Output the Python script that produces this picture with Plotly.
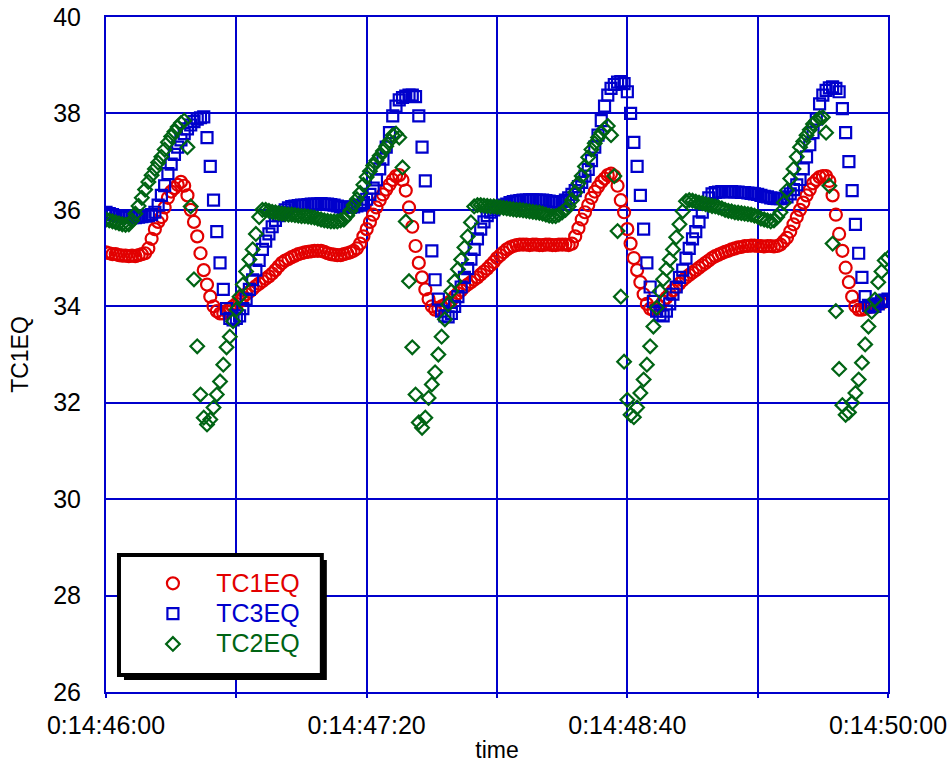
import plotly.graph_objects as go

# time axis: seconds after 0:14:46:00, one sample per second
t_start = 0
t_step = 1
n_samples = 241
time_s = [t_start + i * t_step for i in range(n_samples)]

tick_vals = [0, 40, 80, 120, 160, 200, 240]
tick_text = ["0:14:46:00", "", "0:14:47:20", "", "0:14:48:40", "", "0:14:50:00"]

tc1eq = [
    35.12, 35.10, 35.08, 35.08, 35.06, 35.05, 35.05, 35.04, 35.05, 35.04, 35.06, 35.08, 35.10,
    35.20, 35.40, 35.60, 35.75, 35.85, 36.05, 36.25, 36.38, 36.45, 36.52, 36.58,
    36.50, 36.30, 36.00, 35.75, 35.45, 35.10, 34.75, 34.45, 34.20, 34.00, 33.90, 33.85, 33.85, 33.90, 33.95, 34.00, 34.05,
    34.10, 34.18, 34.25, 34.30, 34.36, 34.42, 34.47, 34.52, 34.57, 34.62, 34.68, 34.75, 34.83, 34.90, 34.95, 34.98, 35.02, 35.05, 35.08, 35.10,
    35.12, 35.13, 35.14, 35.15, 35.15, 35.15, 35.13, 35.10, 35.08, 35.07, 35.06, 35.06, 35.08, 35.10, 35.12,
    35.15, 35.20, 35.30, 35.45, 35.60, 35.75, 35.90, 36.05, 36.20, 36.32, 36.42, 36.52, 36.62, 36.70, 36.72,
    36.62, 36.40, 36.05, 35.65, 35.25, 34.90, 34.60, 34.35, 34.15, 34.00, 33.93, 33.95, 34.00, 34.03, 34.07, 34.12,
    34.20, 34.27, 34.33, 34.40, 34.45, 34.50, 34.55, 34.60, 34.66, 34.72, 34.78, 34.85, 34.92, 35.00, 35.06, 35.12, 35.18, 35.22, 35.25, 35.27, 35.28,
    35.28, 35.28, 35.27, 35.28, 35.28, 35.27, 35.27, 35.28, 35.28, 35.27, 35.27, 35.28, 35.28, 35.28, 35.27, 35.30,
    35.45, 35.62, 35.80, 35.95, 36.10, 36.25, 36.38, 36.48, 36.58, 36.65, 36.72, 36.75, 36.70,
    36.50, 36.20, 35.95, 35.60, 35.30, 35.00, 34.75, 34.50, 34.25, 34.05, 33.95, 33.92, 33.95, 34.00,
    34.10, 34.18, 34.26, 34.33, 34.40, 34.47, 34.54, 34.60, 34.65, 34.70, 34.75, 34.80, 34.85, 34.90, 34.95, 35.00, 35.04, 35.07, 35.10, 35.13, 35.15, 35.18, 35.20, 35.22, 35.23, 35.25, 35.25, 35.26,
    35.26, 35.25, 35.25, 35.24, 35.25, 35.25, 35.24, 35.25, 35.28,
    35.35, 35.42, 35.55, 35.70, 35.85, 36.00, 36.15, 36.30, 36.42, 36.55, 36.62, 36.68, 36.70, 36.70,
    36.60, 36.30, 35.90, 35.50, 35.15, 34.80, 34.50, 34.20, 34.00, 33.93, 33.93, 33.95, 33.98, 34.00, 34.02, 34.05, 34.07, 34.10, 34.12,
]

tc3eq = [
    35.95, 35.92, 35.90, 35.88, 35.87, 35.86, 35.85, 35.85, 35.84, 35.84, 35.85, 35.86, 35.87, 35.88,
    35.90, 35.95, 36.10, 36.30, 36.50, 36.75, 36.95, 37.15, 37.30, 37.45, 37.58, 37.68, 37.76, 37.83, 37.88, 37.91, 37.93,
    37.50, 36.90, 36.20, 35.55, 34.90, 34.35, 33.95, 33.75, 33.72, 33.75,
    33.80, 33.95, 34.15, 34.35, 34.55, 34.75, 34.95, 35.18, 35.35, 35.50, 35.65, 35.78, 35.88, 35.95, 36.00, 36.04, 36.07, 36.08, 36.09, 36.10,
    36.10, 36.11, 36.12, 36.12, 36.12, 36.13, 36.12, 36.12, 36.11, 36.10, 36.08, 36.06, 36.05, 36.05, 36.05, 36.06, 36.08,
    36.10, 36.15, 36.22, 36.32, 36.45, 36.62, 36.85, 37.05, 37.30, 37.60, 37.95, 38.15, 38.28, 38.33, 38.36, 38.38, 38.38, 38.35,
    37.95, 37.30, 36.60, 35.85, 35.15, 34.55, 34.15, 33.90, 33.80, 33.78, 33.85,
    34.00, 34.20, 34.40, 34.60, 34.78, 34.98, 35.18, 35.40, 35.60, 35.75, 35.88, 35.95, 36.00, 36.05, 36.08, 36.10,
    36.12, 36.15, 36.17, 36.18, 36.19, 36.20, 36.20, 36.21, 36.21, 36.20, 36.20, 36.20, 36.19, 36.18, 36.17, 36.16, 36.16, 36.17, 36.20,
    36.25, 36.32, 36.40, 36.48, 36.57, 36.70, 36.84, 37.02, 37.30, 37.55, 37.85, 38.15, 38.38, 38.52, 38.60, 38.65, 38.66, 38.62,
    38.45, 38.00, 37.40, 36.90, 36.30, 35.60, 34.90, 34.40, 34.10, 33.90, 33.82, 33.80,
    33.90, 34.05, 34.25, 34.40, 34.60, 34.75, 35.00, 35.20, 35.40, 35.55, 35.75, 35.95, 36.12, 36.25, 36.33, 36.36, 36.37, 36.38, 36.38, 36.38, 36.38, 36.37, 36.37, 36.36, 36.36, 36.35, 36.34, 36.33, 36.32,
    36.30, 36.28, 36.27, 36.25, 36.24, 36.23, 36.23, 36.24, 36.27, 36.33, 36.42, 36.52, 36.63, 36.85, 37.10, 37.35, 37.60, 37.88, 38.20, 38.38, 38.48, 38.53, 38.55, 38.52, 38.45,
    38.10, 37.60, 37.00, 36.40, 35.70, 35.10, 34.60, 34.20, 34.02, 33.98, 34.00, 34.05, 34.10, 34.13, 34.15,
]

tc2eq = [
    35.80, 35.78, 35.76, 35.74, 35.72, 35.70, 35.69, 35.70, 35.78, 35.92, 36.08, 36.25, 36.42, 36.58, 36.72, 36.85, 36.98, 37.10, 37.25, 37.40, 37.52, 37.62, 37.72, 37.80, 37.85,
    37.30, 36.07, 34.56, 33.17, 32.17, 31.69, 31.55, 31.65, 31.90, 32.17, 32.44, 32.79, 33.15, 33.37, 33.69, 33.93,
    34.20, 34.45, 34.72, 34.97, 35.18, 35.50, 35.85, 36.00,
    36.00, 35.98, 35.96, 35.95, 35.93, 35.92, 35.91, 35.90, 35.90, 35.89, 35.88, 35.87, 35.87, 35.86, 35.85, 35.84, 35.82, 35.80, 35.78, 35.77, 35.76, 35.76, 35.76, 35.78,
    35.80, 35.88, 35.98, 36.10, 36.22, 36.35, 36.52, 36.68, 36.80, 36.92, 37.02, 37.12, 37.22, 37.32, 37.43, 37.55, 37.58, 37.50,
    36.88, 35.76, 34.52, 33.15, 32.17, 31.59, 31.48, 31.69, 32.10, 32.38, 32.63, 33.00, 33.37, 33.73, 34.04, 34.31, 34.52, 34.77, 34.97, 35.22, 35.45, 35.74, 36.07,
    36.10, 36.10, 36.09, 36.08, 36.07, 36.07, 36.06, 36.05, 36.04, 36.03, 36.02, 36.01, 36.00, 36.00, 35.99, 35.98, 35.97, 35.96, 35.95, 35.94, 35.92, 35.90, 35.88, 35.87, 35.87, 35.90, 35.95, 36.00, 36.07,
    36.20, 36.36, 36.55, 36.70, 36.90, 37.09, 37.25, 37.38, 37.50, 37.60, 37.68, 37.74, 37.55, 36.70, 35.56, 34.20, 32.85, 32.06, 31.75, 31.70,
    31.90, 32.20, 32.48, 32.79, 33.17, 33.58, 33.97, 34.31, 34.56, 34.77, 34.97, 35.18, 35.43, 35.70, 35.97, 36.18,
    36.20, 36.19, 36.17, 36.15, 36.14, 36.12, 36.10, 36.08, 36.07, 36.05, 36.03, 36.00, 35.98, 35.97, 35.95, 35.94, 35.93, 35.92, 35.91, 35.90, 35.88, 35.86,
    35.82, 35.80, 35.78, 35.76, 35.78, 35.85, 35.95, 36.15, 36.40, 36.65, 36.85, 37.10, 37.30, 37.42, 37.55, 37.66, 37.78, 37.85, 37.90, 37.92,
    37.60, 36.50, 35.30, 33.90, 32.70, 31.95, 31.75, 31.80, 32.00, 32.20, 32.48, 32.83, 33.21, 33.58, 33.89, 34.14, 34.50, 34.72, 34.95, 35.00,
]

RED = "rgb(226,0,0)"
BLUE = "rgb(0,0,204)"
GREEN = "rgb(0,100,20)"
FONT = "Liberation Sans, Arial, sans-serif"
NB = "\u00a0"


def legend_name(text, color):
    return NB * 4 + f"<span style='color:{color};font-size:25px'>{text}</span>"


fig = go.Figure()
fig.add_trace(go.Scatter(
    x=time_s, y=tc1eq, mode="markers", name=legend_name("TC1EQ", RED),
    marker=dict(symbol="circle-open", size=12, color=RED, line=dict(width=2.2, color=RED)),
))
fig.add_trace(go.Scatter(
    x=time_s, y=tc3eq, mode="markers", name=legend_name("TC3EQ", BLUE),
    marker=dict(symbol="square-open", size=11, color=BLUE, line=dict(width=2.2, color=BLUE)),
))
fig.add_trace(go.Scatter(
    x=time_s, y=tc2eq, mode="markers", name=legend_name("TC2EQ", GREEN),
    marker=dict(symbol="diamond-open", size=10.5, color=GREEN, line=dict(width=2.2, color=GREEN)),
))

# legend frame with drop shadow
lx0, lx1, ly0, ly1 = 0.0166, 0.276, 0.0252, 0.203
dx, dy = 0.0064, 0.0074
fig.add_shape(type="rect", xref="paper", yref="paper",
              x0=lx0 + dx, x1=lx1 + dx, y0=ly0 - dy, y1=ly1 - dy,
              fillcolor="black", line=dict(color="black", width=0), layer="above")
fig.add_shape(type="rect", xref="paper", yref="paper",
              x0=lx0, x1=lx1, y0=ly0, y1=ly1,
              fillcolor="white", line=dict(color="black", width=4), layer="above")

fig.update_layout(
    width=951, height=769,
    margin=dict(l=106, r=63, t=17, b=77, autoexpand=False),
    paper_bgcolor="white", plot_bgcolor="white",
    font=dict(family=FONT, size=24, color="black"),
    showlegend=True,
    legend=dict(
        x=0.06, y=0.116, xanchor="left", yanchor="middle",
        bgcolor="rgba(0,0,0,0)", borderwidth=0,
        font=dict(family=FONT, size=21),
        itemwidth=30, tracegroupgap=0,
    ),
    xaxis=dict(
        range=[0, 240], tickvals=tick_vals, ticktext=tick_text,
        showgrid=True, gridcolor=BLUE, gridwidth=2,
        showline=True, linecolor=BLUE, linewidth=2, mirror=True,
        ticks="outside", ticklen=4, tickcolor=BLUE, tickwidth=2,
        zeroline=False, ticklabelstandoff=6, automargin=False,
        ticklabeloverflow="allow",
        title=dict(text="time", standoff=4, font=dict(size=23)),
        tickfont=dict(size=25),
    ),
    yaxis=dict(
        range=[26, 40], dtick=2, tick0=26,
        showgrid=True, gridcolor=BLUE, gridwidth=2,
        showline=True, linecolor=BLUE, linewidth=2, mirror=True,
        ticks="", zeroline=False, ticklabelstandoff=18, automargin=False,
        ticklabeloverflow="allow",
        title=dict(text="TC1EQ", standoff=18, font=dict(size=23)),
        tickfont=dict(size=25),
    ),
)

# remove the page's default 8px body margin so the figure fills the window exactly
fig.write_html("out.html", config={"displayModeBar": False},
               post_script="document.body.style.margin='0px';")
